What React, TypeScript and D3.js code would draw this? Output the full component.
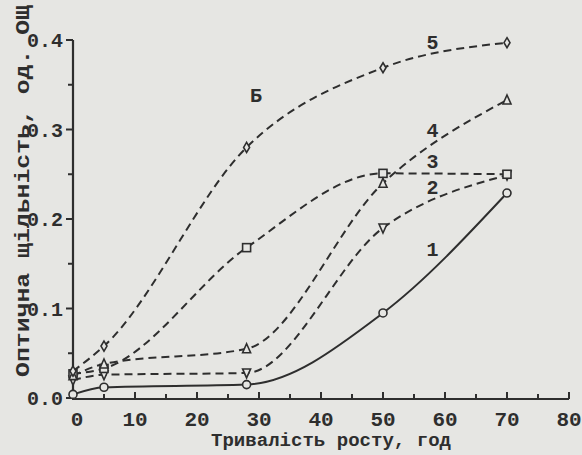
import React from 'react';
import * as d3 from 'd3';

const hours = [0, 5, 28, 50, 70];
const curve1 = [0.004, 0.012, 0.015, 0.095, 0.229];
const curve2 = [0.02, 0.026, 0.028, 0.19, 0.249];
const curve3 = [0.027, 0.033, 0.168, 0.251, 0.25];
const curve4 = [0.025, 0.038, 0.055, 0.24, 0.333];
const curve5 = [0.03, 0.058, 0.28, 0.369, 0.397];
const xTicks = [0, 10, 20, 30, 40, 50, 60, 70, 80];
const yTicks = [0, 0.1, 0.2, 0.3, 0.4];

const series = [
  { name: '1', values: curve1, marker: 'circle', dashed: false },
  { name: '2', values: curve2, marker: 'tri-down', dashed: true },
  { name: '3', values: curve3, marker: 'square', dashed: true },
  { name: '4', values: curve4, marker: 'tri-up', dashed: true },
  { name: '5', values: curve5, marker: 'diamond', dashed: true },
];

// label positions for curve numbers (in data units)
const curveLabels = [
  { text: '1', x: 58, y: 0.166 },
  { text: '2', x: 58, y: 0.236 },
  { text: '3', x: 58, y: 0.265 },
  { text: '4', x: 58, y: 0.3 },
  { text: '5', x: 58, y: 0.398 },
  { text: 'Б', x: 29.5, y: 0.338 },
];

const W = 582;
const H = 455;
const ink = '#2e2e2e';
const paper = '#e6e6e3';
const font = '"Liberation Mono", "DejaVu Sans Mono", monospace';

const x = d3.scaleLinear().domain([0, 80]).range([73, 569]);
const y = d3.scaleLinear().domain([0, 0.4]).range([398, 40]);

const line = d3
  .line<number>()
  .x((_, i) => x(hours[i]))
  .y((d) => y(d))
  .curve(d3.curveMonotoneX);

function Marker({ type, cx, cy }: { type: string; cx: number; cy: number }) {
  const s = 4;
  const common = { fill: paper, stroke: ink, strokeWidth: 1.6 };
  if (type === 'circle') return <circle cx={cx} cy={cy} r={s} {...common} />;
  if (type === 'square')
    return <rect x={cx - s} y={cy - s} width={2 * s} height={2 * s} {...common} />;
  if (type === 'tri-up')
    return <path d={`M${cx},${cy - s - 1}L${cx + s},${cy + s}L${cx - s},${cy + s}Z`} {...common} />;
  if (type === 'tri-down')
    return <path d={`M${cx},${cy + s + 1}L${cx + s},${cy - s}L${cx - s},${cy - s}Z`} {...common} />;
  return <path d={`M${cx},${cy - s - 1}L${cx + s - 1},${cy}L${cx},${cy + s + 1}L${cx - s + 1},${cy}Z`} {...common} />;
}

export default function App() {
  const xMinor = d3.range(5, 80, 10);
  const yMinor = d3.range(0.05, 0.4, 0.1);
  return (
    <svg
      width={W}
      height={H}
      style={{ position: 'absolute', left: 0, top: 0, background: paper }}
      fontFamily={font}
      fontWeight="bold"
    >
      <rect width={W} height={H} fill={paper} />

      {/* axes */}
      <line x1={x(0)} x2={x(0)} y1={y(0) + 1} y2={y(0.4)} stroke={ink} strokeWidth={2.2} />
      <line x1={x(0) - 1} x2={x(80)} y1={y(0) + 1} y2={y(0) + 1} stroke={ink} strokeWidth={2.2} />

      {yTicks.map((t) => (
        <g key={'y' + t}>
          <line x1={x(0) - 7} x2={x(0)} y1={y(t)} y2={y(t)} stroke={ink} strokeWidth={2} />
          <text x={x(0) - 10} y={y(t)} dy="0.35em" textAnchor="end" fontSize={20} fill={ink}>
            {t.toFixed(1)}
          </text>
        </g>
      ))}
      {yMinor.map((t) => (
        <line key={'ym' + t} x1={x(0) - 5} x2={x(0)} y1={y(t)} y2={y(t)} stroke={ink} strokeWidth={2} />
      ))}

      {xTicks.map((t) => (
        <g key={'x' + t}>
          <line x1={x(t)} x2={x(t)} y1={y(0) + 1} y2={y(0) - 6} stroke={ink} strokeWidth={2} />
          <text x={x(t) + (t === 0 ? 4 : 0)} y={y(0) + 28} textAnchor="middle" fontSize={21} fill={ink}>
            {t}
          </text>
        </g>
      ))}
      {xMinor.map((t) => (
        <line key={'xm' + t} x1={x(t)} x2={x(t)} y1={y(0) + 1} y2={y(0) - 4} stroke={ink} strokeWidth={2} />
      ))}

      {/* axis titles */}
      <text
        transform={`translate(22, ${191}) rotate(-90)`}
        textAnchor="middle"
        dy="0.35em"
        fontSize={20}
        fill={ink}
        textLength={372}
        lengthAdjust="spacingAndGlyphs"
      >
        Оптична щільність, од. ОЩ
      </text>
      <text
        x={331}
        y={446}
        textAnchor="middle"
        fontSize={19}
        fill={ink}
        textLength={240}
        lengthAdjust="spacingAndGlyphs"
      >
        Тривалість росту, год
      </text>

      {/* curves */}
      {series.map((s) => (
        <path
          key={'l' + s.name}
          d={line(s.values) || ''}
          fill="none"
          stroke={ink}
          strokeWidth={2}
          strokeDasharray={s.dashed ? '8 5' : undefined}
        />
      ))}
      {series.map((s) =>
        s.values.map((v, i) => (
          <Marker key={s.name + i} type={s.marker} cx={x(hours[i])} cy={y(v)} />
        ))
      )}

      {curveLabels.map((l) => (
        <text key={'c' + l.text} x={x(l.x)} y={y(l.y)} dy="0.35em" textAnchor="middle" fontSize={20} fill={ink}>
          {l.text}
        </text>
      ))}
    </svg>
  );
}
